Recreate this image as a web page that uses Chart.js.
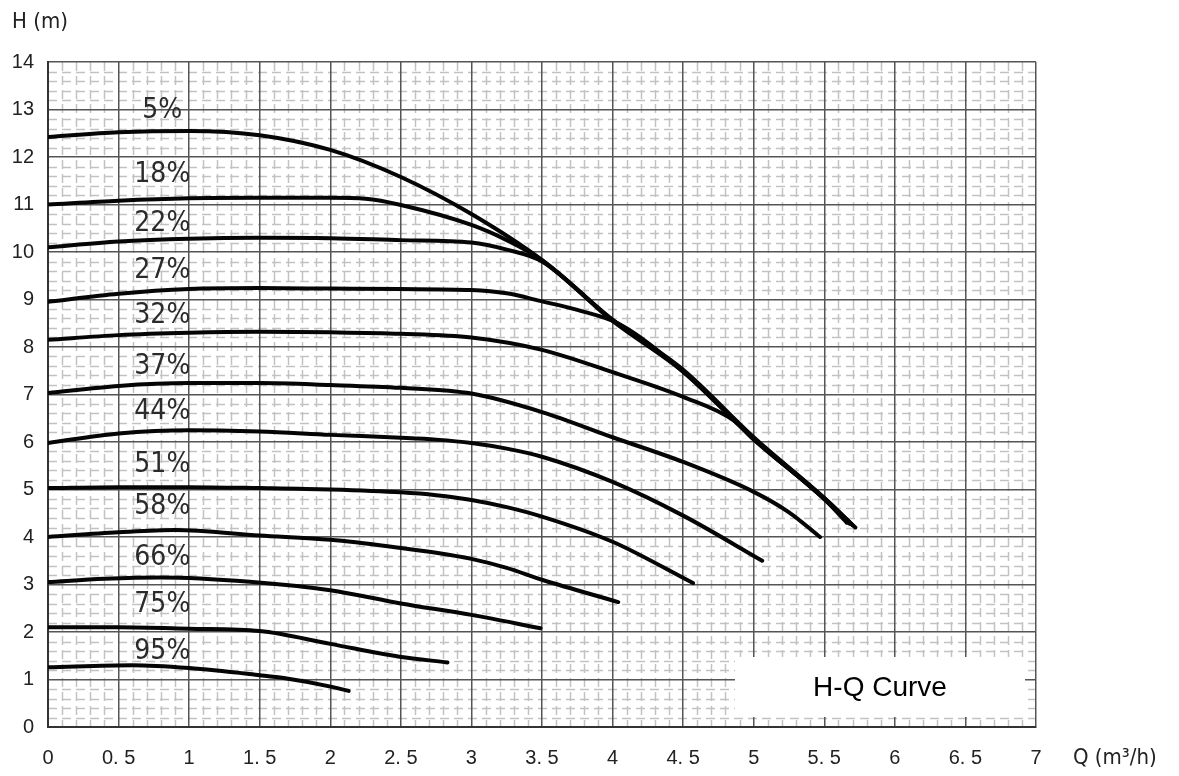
<!DOCTYPE html>
<html>
<head>
<meta charset="utf-8">
<title>H-Q Curve</title>
<style>
  html, body { margin: 0; padding: 0; background: #fff; }
  #wrap { width: 1179px; height: 776px; }
</style>
</head>
<body>
<div id="wrap"><canvas id="hqChart"></canvas></div>
<script src="https://cdn.jsdelivr.net/npm/chart.js@4.4.1/dist/chart.umd.min.js"></script>
<script>
// curve names (speed setting) and label anchors
const curveNames = ['5%', '18%', '22%', '27%', '32%', '37%', '44%', '51%', '58%', '66%', '75%', '95%'];
const labelQ = 0.81;
const labelH = [12.97, 11.62, 10.59, 9.6, 8.65, 7.58, 6.63, 5.52, 4.63, 3.56, 2.57, 1.58];

// flow Q (m3/h) and head H (m)
const q5 = [0, 0.5, 1, 1.5, 2, 2.5, 3, 3.5, 4, 4.5, 5, 5.5, 5.72];
const h5 = [12.42, 12.52, 12.55, 12.46, 12.15, 11.58, 10.8, 9.83, 8.57, 7.52, 6.1, 4.82, 4.2];
const q18 = [0, 0.5, 1, 1.5, 2, 2.25, 2.5, 3, 3.25, 3.5, 4, 4.5, 5, 5.5, 5.7];
const h18 = [11.0, 11.08, 11.13, 11.14, 11.14, 11.12, 10.99, 10.57, 10.25, 9.83, 8.57, 7.5, 6.08, 4.82, 4.25];
const q22 = [0, 0.5, 1, 1.5, 2, 2.5, 3, 3.25, 3.5, 4, 4.5, 5, 5.5, 5.7];
const h22 = [10.1, 10.22, 10.28, 10.3, 10.29, 10.25, 10.2, 10.05, 9.8, 8.55, 7.48, 6.08, 4.8, 4.25];
const q27 = [0, 0.5, 1, 1.5, 2, 2.5, 3, 3.25, 3.5, 3.75, 4.05, 4.5, 5, 5.5, 5.68];
const h27 = [8.95, 9.12, 9.22, 9.24, 9.23, 9.22, 9.2, 9.13, 8.96, 8.78, 8.48, 7.48, 6.06, 4.8, 4.28];
const q32 = [0, 0.5, 1, 1.5, 2, 2.5, 3, 3.5, 4, 4.5, 4.86, 5, 5.5, 5.66];
const h32 = [8.15, 8.25, 8.3, 8.32, 8.31, 8.28, 8.2, 7.94, 7.47, 6.95, 6.45, 6.05, 4.8, 4.3];
const q37 = [0, 0.5, 1, 1.5, 2, 2.5, 3, 3.5, 4, 4.5, 5, 5.25, 5.47];
const h37 = [7.03, 7.18, 7.24, 7.24, 7.2, 7.14, 7.02, 6.63, 6.1, 5.58, 4.95, 4.52, 4.0];
const q44 = [0, 0.5, 1, 1.5, 2, 2.5, 2.75, 3, 3.25, 3.5, 4, 4.5, 5.06];
const h44 = [5.98, 6.18, 6.25, 6.22, 6.15, 6.09, 6.05, 5.98, 5.86, 5.69, 5.16, 4.45, 3.5];
const q51 = [0, 0.5, 1, 1.5, 2, 2.5, 2.75, 3, 3.25, 3.5, 4, 4.57];
const h51 = [5.03, 5.05, 5.05, 5.03, 5.0, 4.94, 4.88, 4.78, 4.63, 4.43, 3.9, 3.03];
const q58 = [0, 0.5, 0.9, 1.5, 2, 2.5, 2.75, 3, 3.25, 3.5, 4.04];
const h58 = [4.0, 4.1, 4.15, 4.03, 3.94, 3.77, 3.67, 3.54, 3.35, 3.1, 2.63];
const q66 = [0, 0.4, 0.8, 1.43, 2, 2.5, 3, 3.49];
const h66 = [3.05, 3.12, 3.15, 3.06, 2.88, 2.6, 2.36, 2.08];
const q75 = [0, 0.5, 1, 1.5, 2, 2.49, 2.83];
const h75 = [2.1, 2.1, 2.07, 2.02, 1.75, 1.48, 1.36];
const q95 = [0, 0.6, 1, 1.5, 1.67, 2.02, 2.13];
const h95 = [1.26, 1.3, 1.24, 1.09, 1.03, 0.84, 0.76];

// axes
const xTickLabels = ['0', '0. 5', '1', '1. 5', '2', '2. 5', '3', '3. 5', '4', '4. 5', '5', '5. 5', '6', '6. 5', '7'];
const yTickLabels = ['0', '1', '2', '3', '4', '5', '6', '7', '8', '9', '10', '11', '12', '13', '14'];
const minorStepQ = 0.1;
const minorStepH = 0.2;

const flows = [q5, q18, q22, q27, q32, q37, q44, q51, q58, q66, q75, q95];
const heads = [h5, h18, h22, h27, h32, h37, h44, h51, h58, h66, h75, h95];

const datasets = curveNames.map((name, i) => ({
  label: name,
  data: flows[i].map((q, j) => ({ x: q, y: heads[i][j] })),
  showLine: true,
  borderColor: '#050505',
  borderWidth: 4,
  borderCapStyle: 'round',
  borderJoinStyle: 'round',
  cubicInterpolationMode: 'monotone',
  pointRadius: 0,
  pointHoverRadius: 0,
  fill: false,
}));

const minorGrid = {
  id: 'minorGrid',
  beforeDraw(chart) {
    const { ctx, chartArea: a, scales: { x, y } } = chart;
    ctx.save();
    ctx.strokeStyle = '#c2c2c2';
    ctx.lineWidth = 1.5;
    ctx.setLineDash([9, 5]);
    ctx.beginPath();
    for (let v = minorStepQ; v < x.max - 1e-6; v += minorStepQ) {
      const r = v / 0.5;
      if (Math.abs(r - Math.round(r)) < 1e-6) continue;
      const px = Math.round(x.getPixelForValue(v)) + 0.5;
      ctx.moveTo(px, a.top);
      ctx.lineTo(px, a.bottom);
    }
    for (let v = minorStepH; v < y.max - 1e-6; v += minorStepH) {
      if (Math.abs(v - Math.round(v)) < 1e-6) continue;
      const py = Math.round(y.getPixelForValue(v)) + 0.5;
      ctx.moveTo(a.left, py);
      ctx.lineTo(a.right, py);
    }
    ctx.stroke();
    ctx.restore();
  },
};

const curveLabels = {
  id: 'curveLabels',
  afterDatasetsDraw(chart) {
    const { ctx, scales: { x, y } } = chart;
    ctx.save();
    ctx.fillStyle = '#2b2b2b';
    ctx.font = '28px "Liberation Sans Narrow", "DejaVu Sans Condensed", sans-serif';
    ctx.textAlign = 'center';
    ctx.textBaseline = 'middle';
    curveNames.forEach((name, i) => {
      ctx.fillText(name, x.getPixelForValue(labelQ), y.getPixelForValue(labelH[i]));
    });
    ctx.restore();
  },
};

const extras = {
  id: 'extras',
  afterDraw(chart) {
    const { ctx, chartArea: a } = chart;
    ctx.save();
    // caption box
    ctx.fillStyle = '#ffffff';
    ctx.fillRect(a.right - 301, a.bottom - 70, 290, 60);
    ctx.fillStyle = '#000000';
    ctx.font = '28px "Liberation Sans", Arial, sans-serif';
    ctx.textAlign = 'center';
    ctx.textBaseline = 'middle';
    ctx.fillText('H-Q Curve', a.right - 156, a.bottom - 39);
    // axis units
    ctx.fillStyle = '#222';
    ctx.textAlign = 'left';
    ctx.font = '22px "Liberation Sans Narrow", "DejaVu Sans Condensed", sans-serif';
    ctx.fillText('H (m)', a.left - 36, a.top - 40);
    ctx.fillText('Q (m³/h)', a.right + 37, a.bottom + 31);
    ctx.restore();
  },
};

new Chart(document.getElementById('hqChart'), {
  type: 'scatter',
  data: { datasets },
  options: {
    responsive: true,
    maintainAspectRatio: false,
    animation: false,
    events: [],
    layout: { padding: { top: 62, right: 143, left: 0, bottom: 0 } },
    plugins: {
      legend: { display: false },
      tooltip: { enabled: false },
      title: { display: false },
    },
    scales: {
      x: {
        type: 'linear',
        min: 0,
        max: 7,
        afterFit: scale => { scale.height = 49; },
        ticks: {
          stepSize: 0.5,
          autoSkip: false,
          maxRotation: 0,
          padding: 19,
          color: '#222',
          font: { family: '"Liberation Sans", Arial, sans-serif', size: 20 },
          callback: (value, index) => xTickLabels[index],
        },
        grid: { color: '#555', lineWidth: 1.5, drawTicks: false },
        border: { color: '#333', width: 2 },
      },
      y: {
        type: 'linear',
        min: 0,
        max: 14,
        afterFit: scale => { scale.width = 48; },
        ticks: {
          stepSize: 1,
          autoSkip: false,
          padding: 14,
          color: '#222',
          font: { family: '"Liberation Sans", Arial, sans-serif', size: 20 },
          callback: (value, index) => yTickLabels[index],
        },
        grid: { color: '#555', lineWidth: 1.5, drawTicks: false },
        border: { color: '#333', width: 2 },
      },
    },
  },
  plugins: [minorGrid, curveLabels, extras],
});
</script>
</body>
</html>
